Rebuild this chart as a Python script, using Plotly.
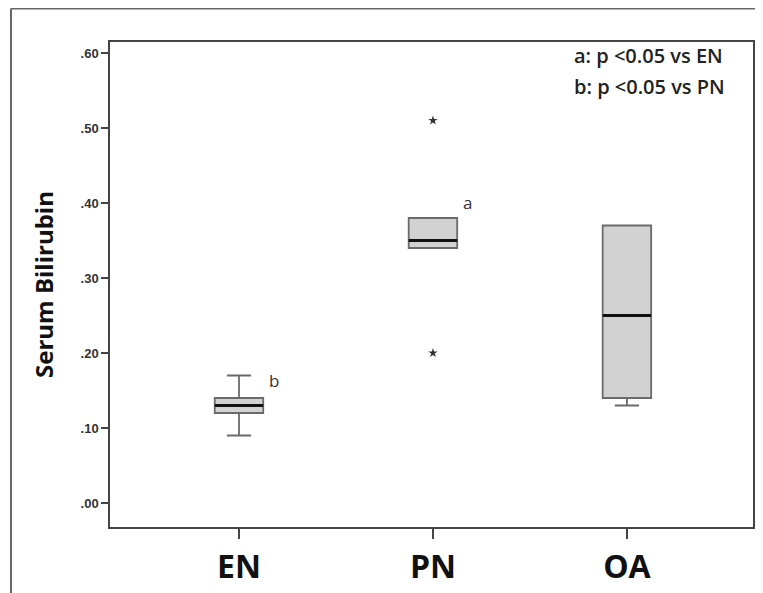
import plotly.graph_objects as go

# ---- data ----
categories = ["EN", "PN", "OA"]
q1 = [0.12, 0.34, 0.14]
median = [0.13, 0.35, 0.25]
q3 = [0.14, 0.38, 0.37]
lower_fence = [0.09, 0.34, 0.13]
upper_fence = [0.17, 0.38, 0.37]
outlier_cat = ["PN", "PN"]
outlier_val = [0.51, 0.20]
y_tickvals = [0.0, 0.1, 0.2, 0.3, 0.4, 0.5, 0.6]
y_ticktext = [".00", ".10", ".20", ".30", ".40", ".50", ".60"]
sig_labels = ["b", "a"]          # letters next to EN and PN
sig_label_cat = ["EN", "PN"]
sig_label_y = [0.164, 0.401]
legend_lines = ["a: p <0.05 vs EN", "b: p <0.05 vs PN"]
y_title = "Serum Bilirubin"

BOX_W = 0.25
pos = {c: i for i, c in enumerate(categories)}
xs = [pos[c] for c in categories]

fig = go.Figure()

fig.add_trace(go.Box(
    x=xs, q1=q1, median=median, q3=q3,
    lowerfence=lower_fence, upperfence=upper_fence,
    width=BOX_W, whiskerwidth=0.5,
    fillcolor="#d2d2d2",
    line=dict(color="#6a6a6a", width=1.8),
    boxpoints=False, showlegend=False, hoverinfo="skip",
))

# thick black median lines
mx, my = [], []
for x, m in zip(xs, median):
    mx += [x - BOX_W / 2, x + BOX_W / 2, None]
    my += [m, m, None]
fig.add_trace(go.Scatter(x=mx, y=my, mode="lines",
                         line=dict(color="#111111", width=3),
                         showlegend=False, hoverinfo="skip"))

# outliers (stars)
fig.add_trace(go.Scatter(x=[pos[c] for c in outlier_cat], y=outlier_val,
                         mode="markers",
                         marker=dict(symbol="star", size=7, color="#333333"),
                         showlegend=False, hoverinfo="skip"))

# letters near boxes
for lab, c, yv in zip(sig_labels, sig_label_cat, sig_label_y):
    fig.add_annotation(x=pos[c] + 0.18, y=yv, text=lab, showarrow=False,
                       xanchor="center", yanchor="middle",
                       font=dict(family="Open Sans", size=17, color="#333333"))

# top-right legend text
for i, t in enumerate(legend_lines):
    fig.add_annotation(x=0.719, y=0.973 - i * 0.064, xref="paper", yref="paper",
                       text=t, showarrow=False, xanchor="left", yanchor="middle",
                       font=dict(family="Open Sans", size=20, color="#222222",
                                 weight=600))

# outer frame (left and top edges)
fig.add_shape(type="line", xref="paper", yref="paper",
              x0=-0.154, x1=-0.154, y0=-0.3, y1=1.069,
              line=dict(color="#666666", width=2))
fig.add_shape(type="line", xref="paper", yref="paper",
              x0=-0.154, x1=1.2, y0=1.069, y1=1.069,
              line=dict(color="#666666", width=2))

fig.update_layout(
    width=763, height=593,
    margin=dict(l=102, r=18, t=34, b=74),
    paper_bgcolor="white", plot_bgcolor="white",
    font=dict(family="Open Sans", color="#222222"),
    xaxis=dict(
        range=[-0.665, 2.65], tickvals=xs, ticktext=categories,
        ticks="outside", ticklen=10, tickwidth=1.5, tickcolor="#444444",
        ticklabelstandoff=1,
        tickfont=dict(family="Open Sans", size=32, color="#111111", weight="bold"),
        showgrid=False, zeroline=False,
        showline=True, linecolor="#444444", linewidth=1.5, mirror=True,
    ),
    yaxis=dict(
        range=[-0.032, 0.6147], tickvals=y_tickvals, ticktext=y_ticktext,
        ticks="outside", ticklen=7, tickwidth=1.5, tickcolor="#444444",
        tickfont=dict(family="Liberation Sans Narrow, Liberation Sans", size=13,
                      color="#333333", weight="bold"),
        showgrid=False, zeroline=False,
        showline=True, linecolor="#444444", linewidth=1.5, mirror=True,
        title=dict(text=y_title, standoff=20,
                   font=dict(family="Open Sans", size=24, color="#111111",
                             weight="bold")),
    ),
)

fig.write_html("out.html")
